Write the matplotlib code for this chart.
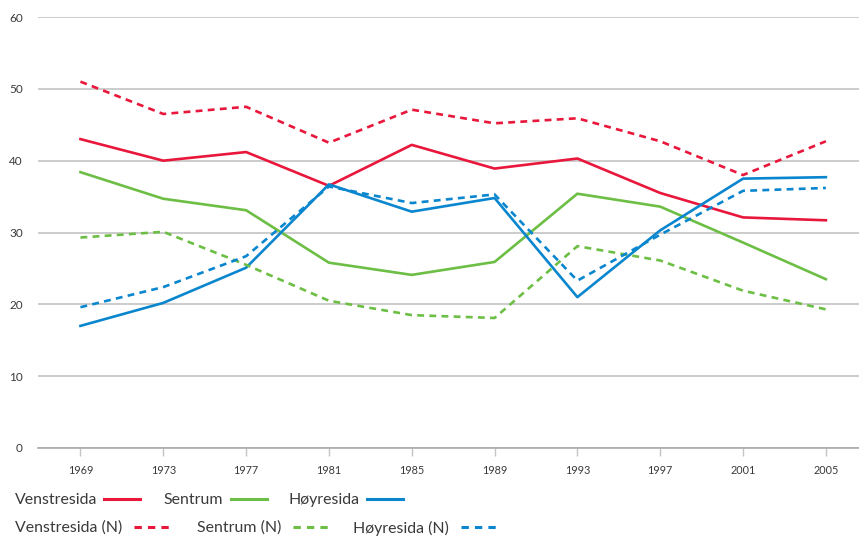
import matplotlib
matplotlib.use("Agg")
import matplotlib.pyplot as plt
from matplotlib.lines import Line2D

# ── Data ──────────────────────────────────────────────────────────────────────
years = [1969, 1973, 1977, 1981, 1985, 1989, 1993, 1997, 2001, 2005]

venstre   = [43.0, 40.0, 41.2, 36.5, 42.2, 38.9, 40.3, 35.5, 32.1, 31.7]
sentrum   = [38.4, 34.7, 33.1, 25.8, 24.1, 25.9, 35.4, 33.6, 28.6, 23.5]
hoyre     = [17.0, 20.2, 25.1, 36.7, 32.9, 34.8, 21.0, 30.3, 37.5, 37.7]
venstre_n = [51.0, 46.5, 47.5, 42.5, 47.1, 45.2, 45.9, 42.7, 38.0, 42.7]
sentrum_n = [29.3, 30.1, 25.5, 20.5, 18.5, 18.1, 28.1, 26.1, 21.9, 19.3]
hoyre_n   = [19.6, 22.4, 26.7, 36.4, 34.1, 35.3, 23.3, 29.7, 35.8, 36.2]

yticks = [0, 10, 20, 30, 40, 50, 60]

RED = "#E8173B"
GREEN = "#6CBE45"
BLUE = "#0A86CF"
GRID = "#C4C4C4"
TXT = "#3a3a3a"

plt.rcParams["font.family"] = ["Lato", "DejaVu Sans"]

fig = plt.figure(figsize=(8.59, 5.38), dpi=100)
ax = fig.add_axes([38 / 859, 1 - 448 / 538, (859 - 38) / 859, (448 - 17) / 538])

LW = 1.9
DASH = (2.6, 2.0)
series = [
    (venstre, RED, "-"), (sentrum, GREEN, "-"), (hoyre, BLUE, "-"),
    (venstre_n, RED, "--"), (sentrum_n, GREEN, "--"), (hoyre_n, BLUE, "--"),
]
for vals, col, ls in series:
    if ls == "-":
        ax.plot(years, vals, color=col, lw=LW, zorder=3, solid_joinstyle="round")
    else:
        ax.plot(years, vals, color=col, lw=LW, dashes=DASH, zorder=3)

ax.set_xlim(1966.95, 2006.6)
ax.set_ylim(0, 60)
ax.set_yticks(yticks)
ax.set_xticks(years)
ax.set_xticklabels([str(y) for y in years], fontsize=7.8, color=TXT)
ax.set_yticklabels([str(v) for v in yticks], fontsize=8.5, color=TXT)
ax.tick_params(axis="y", length=0, pad=11)
ax.tick_params(axis="x", length=6, color=GRID, width=1.0, pad=6)
ax.grid(axis="y", color=GRID, lw=1.2, zorder=0)
for s in ["top", "right", "left"]:
    ax.spines[s].set_visible(False)
ax.spines["bottom"].set_color("#AAAAAA")
ax.spines["bottom"].set_linewidth(1.2)

# ── Legend (manual, two rows) ─────────────────────────────────────────────────
W, H = 859, 538

def legend_item(x_px, y_px, label, col, dashed, lx0, lx1):
    fig.text(x_px / W, 1 - y_px / H, label, fontsize=11.4, color=TXT,
             ha="left", va="center")
    kw = dict(color=col, lw=2.2, transform=None)
    if dashed:
        kw["dashes"] = (2.4, 2.0)
    y = H - y_px + 1
    fig.add_artist(Line2D([lx0, lx1], [y, y], **kw))

legend_item(15, 500, "Venstresida", RED, False, 104, 140)
legend_item(163, 500, "Sentrum", GREEN, False, 231, 267)
legend_item(288, 500, "Høyresida", BLUE, False, 367, 403)
legend_item(15, 528, "Venstresida (N)", RED, True, 134, 173)
legend_item(197, 528, "Sentrum (N)", GREEN, True, 293, 332)
legend_item(353, 528, "Høyresida (N)", BLUE, True, 461, 500)

fig.savefig("out.png", dpi=100)
